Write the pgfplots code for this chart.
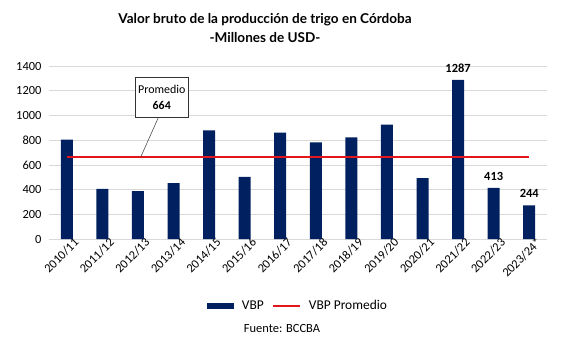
\documentclass[border=0pt]{standalone}
\usepackage{fontspec}
\setmainfont{Carlito}
\newfontfamily\titlefont{Lato}
\usepackage{pgfplots}
\pgfplotsset{compat=1.18}
\definecolor{navy}{HTML}{002060}
\definecolor{vred}{HTML}{E3161B}
\definecolor{gridc}{HTML}{D9D9D9}
\begin{document}
\begin{tikzpicture}[x=1bp,y=1bp]
\path[use as bounding box] (0,0) rectangle (567,-357);
\node[font=\titlefont\bfseries\fontsize{13.6}{20}\selectfont, align=center] at (265,-28) {Valor bruto de la producción de trigo en Córdoba\\-Millones de USD-};
\begin{axis}[
  at={(49bp,-239bp)}, anchor=south west,
  scale only axis, width=498bp, height=173bp,
  xmin=-0.5, xmax=13.5, ymin=0, ymax=1400,
  ytick={0,200,...,1400},
  xtick={0,...,13},
  xticklabels={2010/11,2011/12,2012/13,2013/14,2014/15,2015/16,2016/17,2017/18,2018/19,2019/20,2020/21,2021/22,2022/23,2023/24*},
  x tick label style={rotate=45, anchor=north east, inner sep=0pt, xshift=6bp, yshift=-3bp, font=\fontsize{12.5}{14}\selectfont},
  y tick label style={font=\fontsize{12.5}{14}\selectfont, xshift=-4bp},
  /pgf/number format/assume math mode=true,
  /pgf/number format/1000 sep={},
  ymajorgrids, grid style={gridc, line width=0.6pt},
  axis x line*=bottom, axis y line*=left,
  y axis line style={draw=none},
  x axis line style={gridc, line width=0.6pt},
  major tick length=0pt,
  tick style={draw=none},
  legend style={at={(0.5,-0.33)}, anchor=north, draw=none, legend columns=2, font=\fontsize{13.5}{15}\selectfont, column sep=6pt},
  clip=false,
]
\addplot[ybar, bar width=12bp, fill=navy, draw=none, area legend,
  legend image code/.code={\fill[navy] (-0.1cm,-0.1cm) rectangle (0.85cm,0.1cm);}]
  coordinates {(0,805) (1,405) (2,388) (3,453) (4,880) (5,502) (6,860) (7,782) (8,823) (9,925) (10,493) (11,1287) (12,413) (13,272)};
\addlegendentry{VBP}
\addplot[vred, line width=2.6pt, mark=none,
  legend image code/.code={\draw[vred, line width=2.2pt] (-0.1cm,0cm) -- (0.85cm,0cm);}]
  coordinates {(0,664) (13,664)};
\addlegendentry{VBP Promedio}
\addplot[draw=none, mark=none, forget plot, nodes near coords, point meta=explicit symbolic,
  every node near coord/.append style={font=\bfseries\fontsize{12.5}{14}\selectfont, anchor=south, yshift=4bp}]
  coordinates {(11,1287)[1287] (12,413)[413] (13,272)[244]};
\draw[black!80, line width=0.5pt] (axis cs:2.58,987) -- (axis cs:2.08,664);
\node[draw=black!80, fill=white, line width=0.5pt, align=center, minimum width=53bp, minimum height=40bp, inner sep=1pt,
  font=\fontsize{12}{16}\selectfont] at (axis cs:2.67,1149) {Promedio\\\textbf{664}};
\end{axis}
\node[font=\fontsize{12.5}{14}\selectfont] at (282,-328) {Fuente: BCCBA};
\end{tikzpicture}
\end{document}
